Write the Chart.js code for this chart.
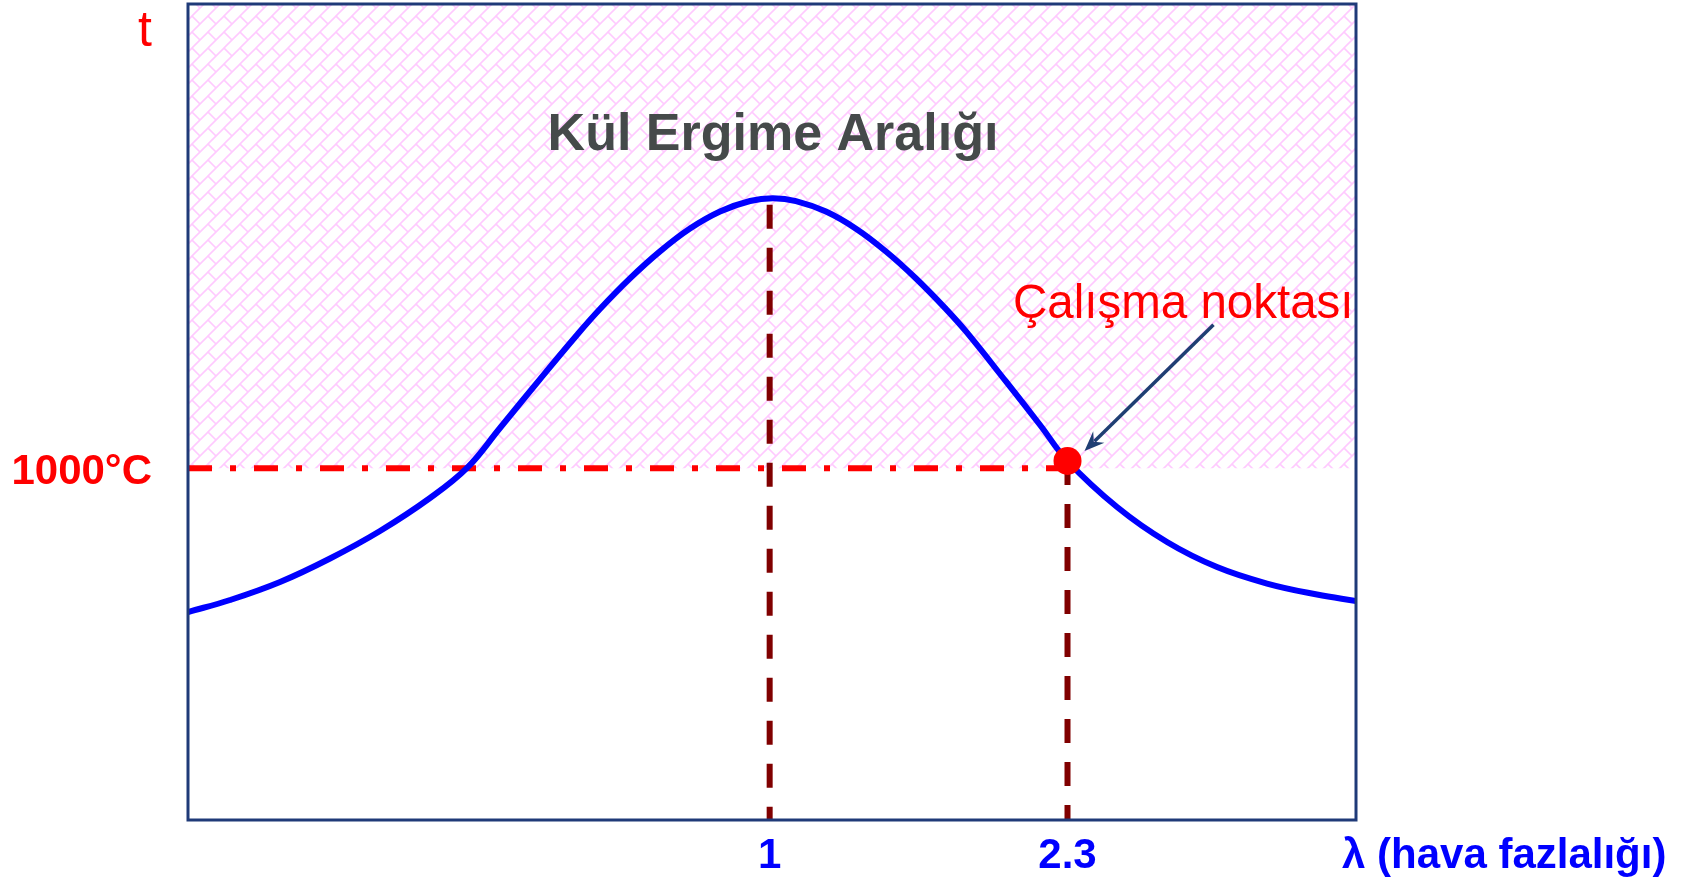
<!DOCTYPE html>
<html>
<head>
<meta charset="utf-8">
<script src="https://cdn.jsdelivr.net/npm/chart.js@4.4.1/dist/chart.umd.min.js"></script>
<style>
  html, body { margin: 0; padding: 0; background: #fff; }
  canvas { display: block; }
</style>
</head>
<body>
<canvas id="ashChart" width="1693" height="884"></canvas>
<script>
// schematic units: x and y both run 0..100 across the plot box
var curveX = [0, 3.60, 7.88, 12.16, 16.44, 20.72, 23.89, 26.71, 30.14, 33.30, 35.27, 37.84, 40.41, 42.98, 45.55, 48.12, 50.09,
              52.05, 54.62, 57.19, 59.76, 62.33, 64.90, 66.61, 70.03, 72.95, 75.3, 79.54, 83.82, 88.10, 92.38, 96.66, 100];
var curveY = [25.49, 26.96, 29.17, 32.05, 35.42, 39.46, 43.14, 48.04, 54.04, 59.44, 62.62, 66.37, 69.68, 72.48, 74.57, 75.86, 76.19,
              75.85, 74.56, 72.46, 69.67, 66.36, 62.61, 59.87, 53.74, 48.41, 44.0, 38.36, 34.07, 31.00, 28.98, 27.63, 26.84];

var xTickPos = [49.8, 75.3];
var xTickLabels = ['1', '2.3'];
var yTickPos = [42.6, 96.6];
var yTickLabels = ['1000°C', 't'];

var limitLevel = 43.1;      // 1000°C
var peakX = 49.8, peakTop = 75.4;
var opX = [75.3], opY = [44.0];   // Çalışma noktası
var arrowTail = [87.8, 60.7];

var FONT = "'Liberation Sans', Arial, sans-serif";

function hatchPattern() {
    var c = document.createElement('canvas');
    c.width = 16; c.height = 16;
    var g = c.getContext('2d');
    g.strokeStyle = 'rgba(255,150,255,0.5)';
    g.lineWidth = 1.6;
    g.beginPath();
    g.moveTo(-2, 18); g.lineTo(18, -2);
    g.moveTo(-2, 2); g.lineTo(2, -2);
    g.moveTo(14, 18); g.lineTo(18, 14);
    g.moveTo(0, 0); g.lineTo(8, 8);
    g.moveTo(16, 0); g.lineTo(24, 8);
    g.moveTo(0, 16); g.lineTo(8, 24);
    g.moveTo(-16, 0); g.lineTo(-8, 8);
    g.stroke();
    return document.getElementById('ashChart').getContext('2d').createPattern(c, 'repeat');
}

function pts(xs, ys) {
    return xs.map(function (x, i) { return { x: x, y: ys[i] }; });
}

var decor = {
    id: 'decor',
    afterDatasetsDraw: function (chart) {
        var ctx = chart.ctx, a = chart.chartArea;
        var xs = chart.scales.x, ys = chart.scales.y;
        ctx.save();

        ctx.strokeStyle = '#1f3a78';
        ctx.lineWidth = 3;
        ctx.strokeRect(a.left, a.top, a.right - a.left, a.bottom - a.top);

        ctx.fillStyle = '#454a4a';
        ctx.font = 'bold 52px ' + FONT;
        ctx.textAlign = 'center';
        ctx.textBaseline = 'alphabetic';
        ctx.fillText('Kül Ergime Aralığı', a.left + 585, 150);

        ctx.fillStyle = '#ff0000';
        ctx.font = '47.5px ' + FONT;
        ctx.textAlign = 'left';
        ctx.fillText('Çalışma noktası', a.left + 825, 318);

        // arrow to the operating point
        var tx = xs.getPixelForValue(arrowTail[0]), ty = ys.getPixelForValue(arrowTail[1]);
        var hx = xs.getPixelForValue(opX[0]) + 17, hy = ys.getPixelForValue(opY[0]) - 10;
        var ang = Math.atan2(hy - ty, hx - tx);
        var cs = Math.cos(ang), sn = Math.sin(ang);
        ctx.strokeStyle = '#1f3f73';
        ctx.fillStyle = '#1f3f73';
        ctx.lineWidth = 3.5;
        ctx.beginPath();
        ctx.moveTo(tx, ty);
        ctx.lineTo(hx - 14 * cs, hy - 14 * sn);
        ctx.stroke();
        ctx.beginPath();
        ctx.moveTo(hx, hy);
        ctx.lineTo(hx - 20 * cs + 8 * sn, hy - 20 * sn - 8 * cs);
        ctx.lineTo(hx - 13 * cs, hy - 13 * sn);
        ctx.lineTo(hx - 20 * cs - 8 * sn, hy - 20 * sn + 8 * cs);
        ctx.closePath();
        ctx.fill();

        ctx.fillStyle = '#0000ff';
        ctx.font = 'bold 42px ' + FONT;
        ctx.textAlign = 'left';
        ctx.textBaseline = 'middle';
        ctx.fillText('λ (hava fazlalığı)', a.right - 14, 856);
        ctx.restore();
    }
};

new Chart(document.getElementById('ashChart'), {
    type: 'line',
    data: {
        datasets: [
            {
                data: pts(opX, opY),
                showLine: false,
                pointRadius: 14,
                pointBackgroundColor: '#ff0000',
                pointBorderWidth: 0,
                order: 0
            },
            {
                data: pts(curveX, curveY),
                borderColor: '#0000ff',
                borderWidth: 6,
                pointRadius: 0,
                tension: 0.4,
                fill: false,
                order: 1
            },
            {
                data: [{ x: peakX, y: peakTop }, { x: peakX, y: 0 }],
                borderColor: '#800000',
                borderWidth: 6,
                borderDash: [24, 19],
                pointRadius: 0,
                order: 2
            },
            {
                data: [{ x: opX[0], y: opY[0] }, { x: opX[0], y: 0 }],
                borderColor: '#800000',
                borderWidth: 6,
                borderDash: [24, 19],
                pointRadius: 0,
                order: 3
            },
            {
                data: [{ x: 0, y: limitLevel }, { x: opX[0], y: limitLevel }],
                borderColor: '#ff0000',
                borderWidth: 6,
                borderDash: [24, 18, 6, 18],
                pointRadius: 0,
                order: 4
            },
            {
                data: [{ x: 0, y: limitLevel }, { x: 100, y: limitLevel }],
                borderWidth: 0,
                pointRadius: 0,
                fill: 'end',
                backgroundColor: hatchPattern(),
                order: 10
            }
        ]
    },
    options: {
        responsive: false,
        animation: false,
        devicePixelRatio: 1,
        layout: { autoPadding: false, padding: { top: 4, right: 337, left: 0, bottom: 0 } },
        plugins: { legend: { display: false }, tooltip: { enabled: false } },
        scales: {
            x: {
                type: 'linear',
                min: 0, max: 100,
                grid: { display: false, drawTicks: false },
                border: { display: false },
                afterBuildTicks: function (s) { s.ticks = xTickPos.map(function (v) { return { value: v }; }); },
                afterFit: function (s) { s.height = 64; s.paddingLeft = 0; s.paddingRight = 0; },
                ticks: {
                    autoSkip: false,
                    maxRotation: 0,
                    padding: 11,
                    color: '#0000ff',
                    font: { family: FONT, size: 42, weight: 'bold' },
                    callback: function (v, i) { return xTickLabels[i]; }
                }
            },
            y: {
                type: 'linear',
                min: 0, max: 100,
                grid: { display: false, drawTicks: false },
                border: { display: false },
                afterBuildTicks: function (s) { s.ticks = yTickPos.map(function (v) { return { value: v }; }); },
                afterFit: function (s) { s.width = 188; s.paddingTop = 0; s.paddingBottom = 0; },
                ticks: {
                    autoSkip: false,
                    padding: 36,
                    color: '#ff0000',
                    font: function (c) {
                        return c.index === 1 ? { family: FONT, size: 50, weight: 'normal' }
                                             : { family: FONT, size: 42, weight: 'bold' };
                    },
                    callback: function (v, i) { return yTickLabels[i]; }
                }
            }
        }
    },
    plugins: [decor]
});
</script>
</body>
</html>
